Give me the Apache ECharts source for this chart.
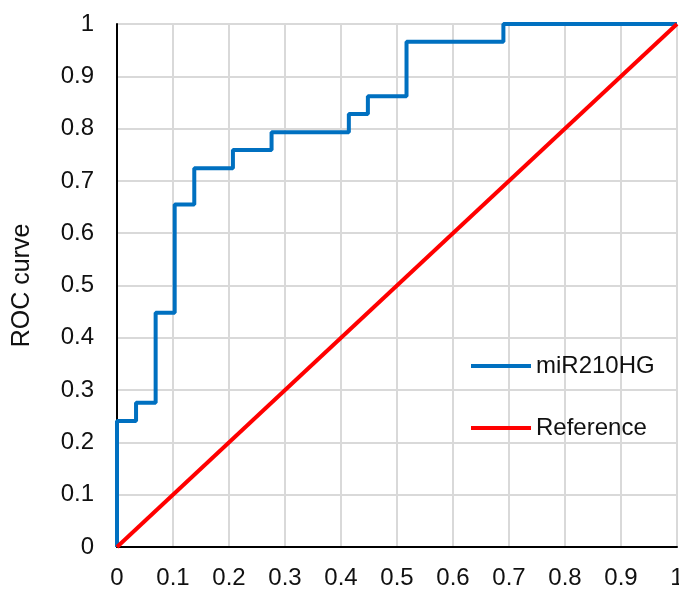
<!DOCTYPE html>
<html>
<head>
<meta charset="utf-8">
<script src="https://cdn.jsdelivr.net/npm/echarts@6/dist/echarts.min.js"></script>
<style>
  html, body { margin: 0; padding: 0; background: #fff; }
  #chart { width: 679px; height: 591px; }
</style>
</head>
<body>
<div id="chart"></div>
<script>
// ROC corner points (step turns at start of each segment)
var fpr = [0, 0.034, 0.069, 0.103, 0.138, 0.207, 0.276, 0.414, 0.448, 0.517, 0.690, 1];
var tpr = [0, 0.241, 0.276, 0.448, 0.655, 0.724, 0.759, 0.793, 0.828, 0.862, 0.966, 1];
var refX = [0, 1];
var refY = [0, 1];

var rocData = fpr.map(function (x, i) { return [x, tpr[i]]; });
var refData = refX.map(function (x, i) { return [x, refY[i]]; });

var chart = echarts.init(document.getElementById('chart'));
var font = 'Liberation Sans, Arial, sans-serif';
var gridLine = { show: true, lineStyle: { color: '#d9d9d9', width: 2 } };

chart.setOption({
  animation: false,
  textStyle: { fontFamily: font },
  grid: { left: 117, right: 2, top: 24, bottom: 44, outerBoundsMode: 'none', containLabel: false },
  legend: {
    orient: 'vertical',
    left: 466,
    top: 349,
    itemWidth: 60,
    itemHeight: 4,
    itemGap: 38,
    icon: 'rect',
    textStyle: { fontSize: 24, color: '#111', fontFamily: font },
    data: ['miR210HG', 'Reference']
  },
  xAxis: {
    type: 'value',
    min: 0, max: 1, interval: 0.1,
    axisLine: { lineStyle: { color: '#000', width: 2 } },
    axisTick: { show: false },
    axisLabel: { fontSize: 24, color: '#111', margin: 19 },
    splitLine: gridLine
  },
  yAxis: {
    type: 'value',
    min: 0, max: 1, interval: 0.1,
    name: 'ROC curve',
    nameLocation: 'middle',
    nameGap: 82,
    nameTextStyle: { fontSize: 25, color: '#111' },
    axisLine: { show: true, lineStyle: { color: '#000', width: 2 } },
    axisTick: { show: false },
    axisLabel: { fontSize: 24, color: '#111', margin: 23 },
    splitLine: gridLine
  },
  series: [
    {
      name: 'miR210HG',
      type: 'line',
      step: 'start',
      data: rocData,
      symbol: 'none',
      itemStyle: { color: '#0070C0' },
      lineStyle: { color: '#0070C0', width: 4 }
    },
    {
      name: 'Reference',
      type: 'line',
      data: refData,
      symbol: 'none',
      itemStyle: { color: '#FF0000' },
      lineStyle: { color: '#FF0000', width: 4 }
    }
  ]
});
</script>
</body>
</html>
